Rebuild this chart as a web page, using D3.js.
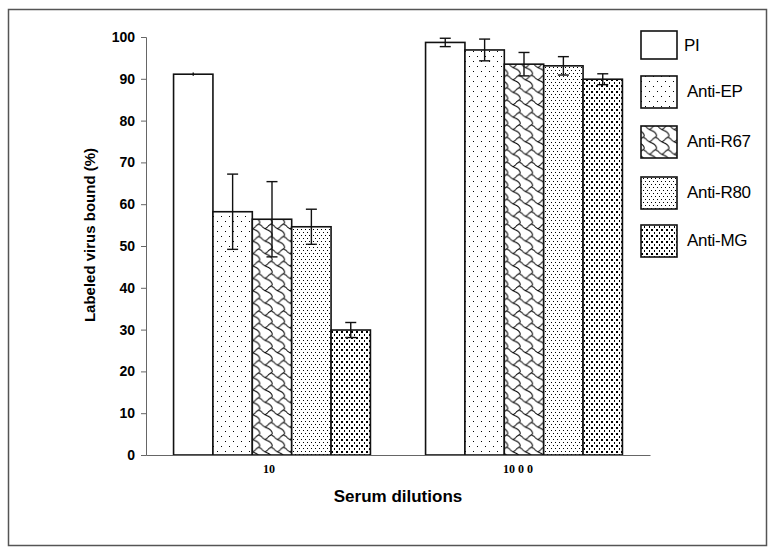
<!DOCTYPE html>
<html>
<head>
<meta charset="utf-8">
<script src="https://cdn.jsdelivr.net/npm/d3@7"></script>
<style>
  body { margin: 0; background: #fff; }
  svg { display: block; }
</style>
</head>
<body>
<div id="chart"></div>
<script>
// categories and series
var dilutions = ["10", "1000"]
var dilutionLabels = ["10", "10 0 0"]
var sera = ["PI", "Anti-EP", "Anti-R67", "Anti-R80", "Anti-MG"]
var bound10 = [91.1, 58.2, 56.4, 54.6, 29.9]
var err10 = [0.4, 9.0, 9.0, 4.2, 1.8]
var bound1000 = [98.7, 96.9, 93.5, 93.1, 89.9]
var err1000 = [1.0, 2.6, 2.8, 2.2, 1.3]
var yTicks = [0, 10, 20, 30, 40, 50, 60, 70, 80, 90, 100]

var width = 778, height = 555
var margin = {left: 146, right: 128, top: 37, bottom: 100}

var svg = d3.select("#chart").append("svg")
    .attr("width", width)
    .attr("height", height)

// fill patterns, one per serum
var defs = svg.append("defs")
function dotPattern(id, w, h, dots, size) {
    var p = defs.append("pattern")
        .attr("id", id)
        .attr("patternUnits", "userSpaceOnUse")
        .attr("width", w).attr("height", h)
    p.append("rect").attr("width", w).attr("height", h).attr("fill", "#fff")
    dots.forEach(d => {
        p.append("rect")
            .attr("x", d[0]).attr("y", d[1])
            .attr("width", size).attr("height", size)
            .attr("fill", "#000")
            .attr("shape-rendering", "crispEdges")
    })
}
dotPattern("p-ep", 8, 10, [[1, 1], [5, 6]], 1.3)
dotPattern("p-r80", 4, 6, [[1, 1], [3, 4]], 1.2)
dotPattern("p-mg", 5, 6, [[1, 1], [3.5, 4]], 1.8)

// shingle pattern: a curved diagonal chain plus the small arc joining neighbours
var chain = [[-1, 0.5], [0.5, 1.5], [1.5, 2.5], [3, 3.5], [5, 4.5], [6.5, 5.5], [7.5, 7], [7.5, 8]]
var arc = [[7, 0.5], [5.5, 1.5], [4.5, 2.5], [3, 3.5]]
var s = 1.55
var curve = d3.line().x(p => p[0] * s).y(p => p[1] * s).curve(d3.curveCatmullRom)
var shingle = defs.append("pattern")
    .attr("id", "p-r67")
    .attr("patternUnits", "userSpaceOnUse")
    .attr("width", 8 * s).attr("height", 8 * s)
shingle.append("rect").attr("width", 8 * s).attr("height", 8 * s).attr("fill", "#fff")
var chainPts = []
for (var j = -1; j <= 1; j++) chain.forEach(p => chainPts.push([p[0] + 8 * j, p[1] + 8 * j]))
for (var i = -2; i <= 2; i++) {
    shingle.append("path")
        .attr("d", curve(chainPts.map(p => [p[0] + 8 * i, p[1]])))
        .attr("fill", "none").attr("stroke", "#000").attr("stroke-width", 1.0)
    for (var k = -1; k <= 1; k++) {
        shingle.append("path")
            .attr("d", curve(arc.map(p => [p[0] + 8 * i, p[1] + 8 * k])))
            .attr("fill", "none").attr("stroke", "#000").attr("stroke-width", 1.0)
    }
}

var fills = ["#fff", "url(#p-ep)", "url(#p-r67)", "url(#p-r80)", "url(#p-mg)"]

var x = d3.scaleBand()
    .domain(dilutions)
    .range([margin.left, width - margin.right])

var xInner = d3.scaleBand()
    .domain(sera)
    .range([0, x.bandwidth()])
    .paddingOuter(0.7)

var y = d3.scaleLinear()
    .domain([0, 100])
    .range([height - margin.bottom, margin.top])

// outer frame
svg.append("rect")
    .attr("x", 8.5).attr("y", 9.5)
    .attr("width", 758).attr("height", 536)
    .attr("fill", "none")
    .attr("stroke", "#555")
    .attr("stroke-width", 1.5)

var rows = []
dilutions.forEach((d, gi) => {
    var vals = gi == 0 ? bound10 : bound1000
    var errs = gi == 0 ? err10 : err1000
    sera.forEach((s, i) => {
        rows.push({dilution: d, serum: s, value: vals[i], err: errs[i], fill: fills[i]})
    })
})

var bars = svg.append("g")
bars.selectAll("rect")
    .data(rows)
    .join("rect")
        .attr("x", d => x(d.dilution) + xInner(d.serum))
        .attr("y", d => y(d.value))
        .attr("width", xInner.bandwidth())
        .attr("height", d => y(0) - y(d.value))
        .attr("fill", d => d.fill)
        .attr("stroke", "#111")
        .attr("stroke-width", 1.6)

// error bars
var errG = svg.append("g").attr("stroke", "#111").attr("stroke-width", 1.4)
rows.forEach(d => {
    var cx = x(d.dilution) + xInner(d.serum) + xInner.bandwidth() / 2
    var y1 = y(d.value + d.err), y2 = y(d.value - d.err)
    errG.append("line").attr("x1", cx).attr("x2", cx).attr("y1", y1).attr("y2", y2)
    if (d.err > 0.5) {
        errG.append("line").attr("x1", cx - 5.5).attr("x2", cx + 5.5).attr("y1", y1).attr("y2", y1)
        errG.append("line").attr("x1", cx - 5.5).attr("x2", cx + 5.5).attr("y1", y2).attr("y2", y2)
    }
})

// y axis
var yAxis = svg.append("g")
    .attr("transform", `translate(${margin.left},0)`)
    .call(d3.axisLeft(y).tickValues(yTicks).tickSize(5).tickPadding(6))
yAxis.select(".domain").attr("stroke", "#666")
yAxis.selectAll(".tick line").attr("stroke", "#666")
yAxis.selectAll("text")
    .attr("font-family", "Liberation Sans, Arial, sans-serif")
    .attr("font-weight", "bold")
    .attr("font-size", 14)
    .attr("fill", "#000")

// x axis line
var xAxis = svg.append("g")
    .attr("transform", `translate(0,${y(0)})`)
    .call(d3.axisBottom(x).tickSize(0).tickPadding(9).tickFormat((d, i) => dilutionLabels[i]))
xAxis.select(".domain").attr("stroke", "#666")
xAxis.selectAll("text")
    .attr("font-family", "Liberation Serif, Times New Roman, serif")
    .attr("font-weight", "bold")
    .attr("font-size", 12)
    .attr("fill", "#000")
    .attr("dx", (d, i) => i == 0 ? -3 : -6)

// axis titles
svg.append("text")
    .attr("transform", `translate(95,${(y(0) + y(100)) / 2 - 11}) rotate(-90)`)
    .attr("text-anchor", "middle")
    .attr("font-family", "Liberation Sans, Arial, sans-serif")
    .attr("font-weight", "bold")
    .attr("font-size", 15)
    .text("Labeled virus bound (%)")

svg.append("text")
    .attr("x", (margin.left + width - margin.right) / 2)
    .attr("y", 502)
    .attr("text-anchor", "middle")
    .attr("font-family", "Liberation Sans, Arial, sans-serif")
    .attr("font-weight", "bold")
    .attr("font-size", 17)
    .text("Serum dilutions")

// legend
var legendTops = [31, 76, 126, 177, 225]
var legend = svg.append("g")
sera.forEach((s, i) => {
    legend.append("rect")
        .attr("x", 641).attr("y", legendTops[i])
        .attr("width", 36).attr("height", i == 0 ? 28 : 32)
        .attr("fill", fills[i])
        .attr("stroke", "#111")
        .attr("stroke-width", 1.6)
    legend.append("text")
        .attr("x", i == 0 ? 684 : 687)
        .attr("y", legendTops[i] + (i == 0 ? 20 : 21))
        .attr("font-family", "Liberation Sans, Arial, sans-serif")
        .attr("font-size", 17)
        .attr("letter-spacing", -0.3)
        .text(s)
})
</script>
</body>
</html>
